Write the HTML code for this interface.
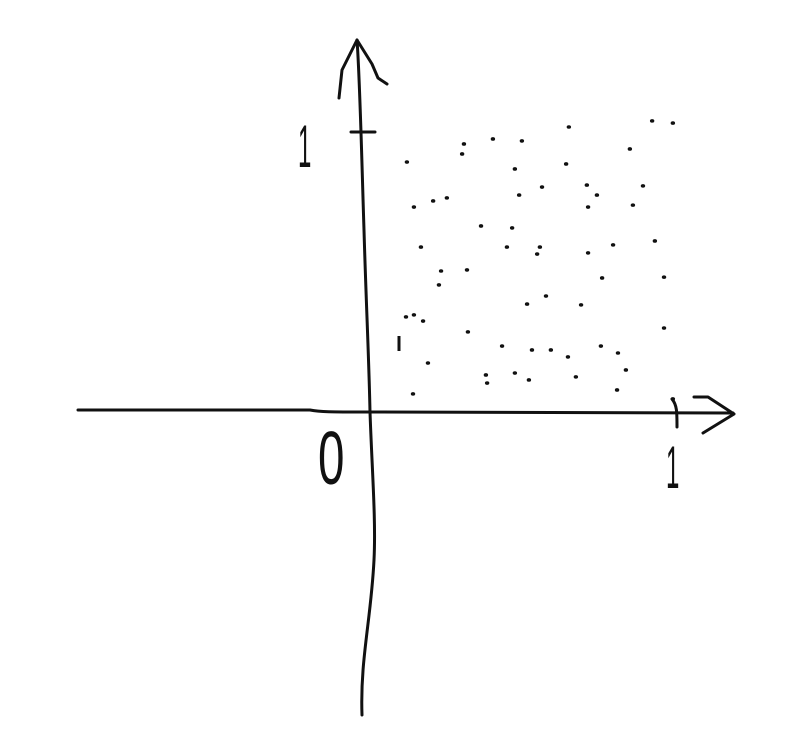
<!DOCTYPE html>
<html><head><meta charset="utf-8"><style>
html,body{margin:0;padding:0;background:#fff;}
svg{display:block;}
text{font-family:"Liberation Sans",sans-serif;fill:#111;}
</style></head><body>
<svg id="chart" width="800" height="752" viewBox="0 0 800 752" xmlns="http://www.w3.org/2000/svg">
  <g fill="none" stroke="#111" stroke-width="3" stroke-linecap="round" stroke-linejoin="round">
    <path d="M357,40 C360,80 362,170 364,230 C366,300 369,360 370,412 C372,470 376,520 374,560 C371,620 360,660 362,715"/>
    <path d="M339,98 L342,70 L357,40 L372,64 L378,78 L387,84"/>
    <path d="M351,132 L375,132"/>
  </g>
  <g fill="none" stroke="#111" stroke-width="3" stroke-linecap="round" stroke-linejoin="round">
    <path d="M78,410 L310,410 C320,412 330,412 370,412 L733,413"/>
    <path d="M694,397 L708,397 L734,414 L703,433"/>
    <path d="M672,399 C677,405 677,412 677,427"/>
  </g>
  <text x="0" y="0" font-size="48" transform="translate(298,167) scale(0.5,1.25)">1</text>
  <text x="0" y="0" font-size="56" transform="translate(318,484) scale(0.85,1.35)">0</text>
  <text x="0" y="0" font-size="48" transform="translate(666,488) scale(0.5,1.25)">1</text>
  <path d="M399,336 L399,351" stroke="#111" stroke-width="3" fill="none"/>
  <g id="points"></g>
</svg>
<script>
const xValues = [0.652,0.925,0.993,0.308,0.403,0.498,0.302,0.852,0.121,0.475,0.643,0.564,0.711,0.895,0.744,0.489,0.207,0.252,0.144,0.715,0.862,0.364,0.466,0.167,0.449,0.557,0.548,0.715,0.797,0.934,0.233,0.318,0.226,0.761,0.964,0.577,0.515,0.692,0.118,0.144,0.174,0.321,0.964,0.433,0.531,0.593,0.649,0.757,0.813,0.190,0.380,0.384,0.475,0.521,0.675,0.839,0.141,0.810,0.993];
const yValues = [1.018,1.040,1.032,0.957,0.975,0.968,0.921,0.939,0.892,0.867,0.885,0.802,0.809,0.806,0.773,0.773,0.752,0.763,0.730,0.730,0.737,0.662,0.655,0.586,0.586,0.586,0.561,0.565,0.594,0.608,0.500,0.504,0.450,0.475,0.478,0.410,0.381,0.378,0.335,0.342,0.320,0.281,0.295,0.230,0.216,0.216,0.191,0.230,0.205,0.169,0.126,0.097,0.133,0.108,0.119,0.144,0.058,0.072,0.040];
const X0 = 370, XW = 305, Y0 = 410, YH = 278;
function xScale(v){ return X0 + v * XW; }
function yScale(v){ return Y0 - v * YH; }
const g = document.getElementById('points');
const NS = 'http://www.w3.org/2000/svg';
for (let i = 0; i < xValues.length; i++) {
  const c = document.createElementNS(NS, 'ellipse');
  c.setAttribute('cx', xScale(xValues[i]));
  c.setAttribute('cy', yScale(yValues[i]));
  c.setAttribute('rx', 2.2);
  c.setAttribute('ry', 1.8);
  c.setAttribute('fill', '#111');
  
  
  g.appendChild(c);
}
</script>
</body></html>
